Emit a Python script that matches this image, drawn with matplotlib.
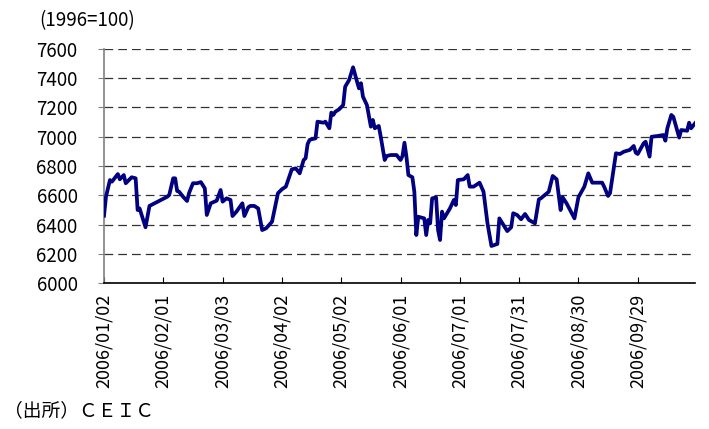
import matplotlib
matplotlib.use("Agg")
import matplotlib.pyplot as plt
import pandas as pd

plt.rcParams['font.family'] = ['Noto Sans CJK JP', 'DejaVu Sans']

base_date = "2006-01-02"
# day offsets from 2006/01/02 and index values
day_offset = [0, 1, 3, 4, 6, 7, 8, 10, 11, 14, 16, 17, 18, 21, 23, 32, 33, 35, 36, 37,
              38, 40, 42, 43, 45, 47, 49, 51, 52, 54, 57, 59, 60, 62, 64, 65, 67, 70, 71, 73,
              74, 76, 78, 80, 82, 85, 88, 90, 92, 95, 97, 99, 101, 102, 103, 104, 105, 107, 108, 111,
              112, 114, 115, 116, 117, 119, 121, 122, 124, 126, 128, 129, 130, 131, 133, 135, 136, 137, 139, 140,
              142, 143, 145, 148, 150, 151, 152, 153, 154, 156, 157, 158, 159, 162, 163, 164, 165, 166, 168, 169,
              170, 171, 172, 175, 177, 178, 179, 182, 184, 185, 187, 190, 192, 194, 196, 199, 200, 204, 206, 207,
              209, 211, 213, 215, 218, 220, 221, 225, 227, 229, 231, 232, 234, 238, 240, 243, 245, 247, 252, 253,
              255, 256, 259, 261, 263, 266, 268, 269, 270, 273, 274, 276, 277, 280, 283, 284, 285, 287, 288, 291,
              292, 295, 296, 297, 299]
index_value = [6460, 6590, 6704, 6693, 6727, 6745, 6709, 6738, 6682, 6723, 6716, 6499, 6510, 6381, 6527, 6590, 6602, 6716, 6716, 6629,
               6624, 6590, 6561, 6614, 6682, 6682, 6690, 6647, 6465, 6545, 6563, 6636, 6556, 6579, 6568, 6458, 6488, 6545, 6458, 6518,
               6527, 6527, 6510, 6362, 6374, 6419, 6614, 6641, 6659, 6777, 6784, 6750, 6841, 6853, 6950, 6978, 6983, 6989, 7103, 7096,
               7103, 7058, 7165, 7149, 7171, 7188, 7217, 7342, 7388, 7475, 7377, 7331, 7366, 7274, 7217, 7069, 7115, 7058, 7074, 7000,
               6841, 6868, 6875, 6875, 6841, 6868, 6959, 6864, 6738, 6723, 6624, 6328, 6453, 6442, 6328, 6431, 6408, 6579, 6585, 6362,
               6294, 6488, 6442, 6510, 6568, 6533, 6704, 6709, 6738, 6659, 6659, 6686, 6624, 6408, 6253, 6267, 6442, 6355, 6381, 6477,
               6465, 6436, 6472, 6431, 6408, 6572, 6579, 6624, 6732, 6709, 6499, 6586, 6545, 6442, 6586, 6659, 6750, 6686, 6686, 6659,
               6595, 6614, 6887, 6882, 6898, 6910, 6937, 6891, 6882, 6955, 6966, 6864, 7000, 7005, 7012, 6973, 7058, 7149, 7137, 6994,
               7046, 7041, 7096, 7058, 7092]

tick_dates = ["2006/01/02", "2006/02/01", "2006/03/03", "2006/04/02", "2006/05/02",
              "2006/06/01", "2006/07/01", "2006/07/31", "2006/08/30", "2006/09/29"]
y_ticks = [6000, 6200, 6400, 6600, 6800, 7000, 7200, 7400, 7600]

dates = pd.Timestamp(base_date) + pd.to_timedelta(day_offset, unit="D")
tick_pos = pd.to_datetime(tick_dates, format="%Y/%m/%d")

fig = plt.figure(figsize=(7.09, 4.29), dpi=100)
ax = fig.add_axes([0.1467, 0.3403, 0.8336, 0.5455])

ax.plot(dates, index_value, color="#000080", linewidth=2.7, solid_joinstyle="round", zorder=3)

ax.set_ylim(6000, 7600)
ax.set_yticks(y_ticks)
ax.set_yticklabels([str(v) for v in y_ticks], fontsize=13.5)
ax.set_xlim(dates[0], dates[-1])
ax.set_xticks(tick_pos)
ax.set_xticklabels(tick_dates, rotation=90, fontsize=13)

ax.grid(axis="y", color="#333333", linestyle=(0, (7, 4)), linewidth=0.9)
ax.grid(axis="x", visible=False)
ax.set_axisbelow(True)

for s in ["top", "right"]:
    ax.spines[s].set_visible(False)
ax.spines["left"].set_color("#808080")
ax.spines["left"].set_linewidth(1.2)
ax.spines["bottom"].set_color("#000000")
ax.spines["bottom"].set_linewidth(1.2)

ax.tick_params(axis="y", direction="out", length=4, color="#808080", pad=15)
ax.tick_params(axis="x", direction="in", length=4, color="#000000", pad=8)

fig.text(0.055, 0.952, "(1996=100)", fontsize=13.5, ha="left", va="center")
fig.text(0.005, 0.042, "（出所）ＣＥＩＣ", fontsize=13.5, ha="left", va="center")

fig.savefig("out.png", dpi=100)
